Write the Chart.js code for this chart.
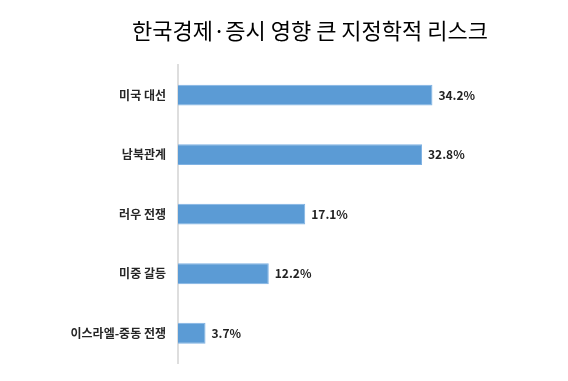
<!DOCTYPE html>
<html>
<head>
<meta charset="utf-8">
<script src="https://cdn.jsdelivr.net/npm/chart.js@4"></script>
<style>
  html, body { margin: 0; padding: 0; background: #fff; }
  #wrap { width: 568px; height: 381px; }
</style>
</head>
<body>
<div id="wrap"><canvas id="risk-chart" width="568" height="381"></canvas></div>
<script>
// 한국경제·증시 영향 큰 지정학적 리스크
const categories = ['미국 대선', '남북관계', '러우 전쟁', '미중 갈등', '이스라엘-중동 전쟁'];
const shares = [34.2, 32.8, 17.1, 12.2, 3.7];

const FONT = '"Noto Sans CJK KR", "Noto Sans", sans-serif';

// value labels at the end of each bar
const valueLabels = {
    id: 'valueLabels',
    afterDatasetsDraw(chart) {
        const ctx = chart.ctx;
        const meta = chart.getDatasetMeta(0);
        ctx.save();
        ctx.font = 'bold 12px ' + FONT;
        ctx.fillStyle = '#222';
        ctx.textAlign = 'left';
        ctx.textBaseline = 'middle';
        meta.data.forEach((bar, i) => {
            ctx.fillText(shares[i].toFixed(1) + '%', bar.x + 6, bar.y);
        });
        ctx.restore();
    }
};

new Chart(document.getElementById('risk-chart'), {
    type: 'bar',
    data: {
        labels: categories,
        datasets: [{
            data: shares,
            backgroundColor: '#5B9BD5',
            borderColor: '#7FB2E3',
            borderWidth: 1,
            categoryPercentage: 1,
            barPercentage: 0.35
        }]
    },
    options: {
        indexAxis: 'y',
        responsive: false,
        animation: false,
        layout: { padding: { left: 70, right: 18, bottom: 18 } },
        plugins: {
            legend: { display: false },
            tooltip: { enabled: false },
            title: {
                display: true,
                text: '한국경제·증시 영향 큰 지정학적 리스크',
                color: '#000',
                font: { family: FONT, size: 22, weight: 'normal' },
                padding: { top: 17, bottom: 22 }
            }
        },
        scales: {
            x: {
                display: false,
                min: 0,
                max: 50
            },
            y: {
                grid: { display: false },
                border: { display: true, color: '#dedede', width: 2 },
                ticks: {
                    color: '#262626',
                    padding: 4,
                    font: { family: FONT, size: 12, weight: 'bold' }
                },
                afterFit(scale) { scale.width = 108; }
            }
        }
    },
    plugins: [valueLabels]
});
</script>
</body>
</html>
